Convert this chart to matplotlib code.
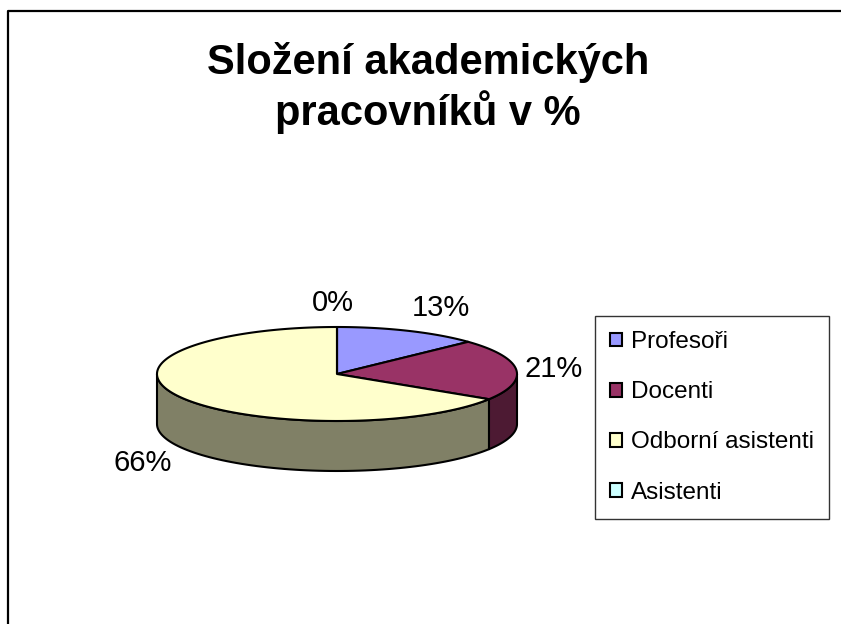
import numpy as np
import matplotlib.pyplot as plt
from matplotlib.patches import Polygon, Patch
from matplotlib.colors import to_rgb

plt.rcParams['font.family'] = ['Liberation Sans', 'DejaVu Sans']

# Data
categories = ["Profesoři", "Docenti", "Odborní asistenti", "Asistenti"]
values = [13, 21, 66, 0]
colors = ["#9999FF", "#993366", "#FFFFCC", "#CCFFFF"]
title = "Složení akademických\npracovníků v %"

# Pie geometry (pixel frame)
cx, cy = 337, 374
rx, ry = 180, 47
depth = 50

fig = plt.figure(figsize=(8.41, 6.24), dpi=100)
ax = fig.add_axes([0, 0, 1, 1])
ax.set_xlim(0, 841)
ax.set_ylim(624, 0)
ax.axis("off")

# chart border (left and top edges visible)
ax.plot([8, 8, 841], [624, 11, 11], color="black", lw=1.6, solid_capstyle="butt")


def pt(t, dy=0.0):
    # t in degrees clockwise from 12 o'clock
    r = np.radians(t)
    return cx + rx * np.sin(r), cy - ry * np.cos(r) + dy


def dark(c):
    return tuple(v * 0.5 for v in to_rgb(c))


total = sum(values)
bounds = np.concatenate([[0], np.cumsum(values) / total * 360])

# side walls (front half only: 90..270)
for i, c in enumerate(colors):
    a, b = max(bounds[i], 90), min(bounds[i + 1], 270)
    if b <= a:
        continue
    ts = np.linspace(a, b, 80)
    top = [pt(t) for t in ts]
    bot = [pt(t, depth) for t in ts[::-1]]
    ax.add_patch(Polygon(top + bot, closed=True, facecolor=dark(c),
                         edgecolor="black", lw=1.5, joinstyle="round"))

# top faces
for i, c in enumerate(colors):
    a, b = bounds[i], bounds[i + 1]
    ts = np.linspace(a, b, max(int(b - a) * 2, 2))
    poly = [(cx, cy)] + [pt(t) for t in ts]
    ax.add_patch(Polygon(poly, closed=True, facecolor=c,
                         edgecolor="black", lw=1.5, joinstyle="round"))

# percentage labels
for i, v in enumerate(values):
    mid = (bounds[i] + bounds[i + 1]) / 2
    r = np.radians(mid)
    s, co = np.sin(r), np.cos(r)
    x = cx + (rx + 8) * s
    y = cy - (ry + 10) * co
    if abs(s) < 0.1:
        ha = "center"
        x -= 4
    else:
        ha = "left" if s > 0 else "right"
    if co > 0.3:
        va = "bottom"
    elif co < -0.3:
        va = "top"
        y += depth - 2
    else:
        va = "center"
    ax.text(x, y, f"{round(v / total * 100)}%", fontsize=21, ha=ha, va=va)

ax.text(428, 88, title, fontsize=30, fontweight="bold", ha="center",
        va="center", linespacing=1.2)

handles = [Patch(facecolor=c, edgecolor="black", lw=1.5) for c in colors]
leg = ax.legend(handles, categories, loc="upper left",
                bbox_to_anchor=(595, 316), bbox_transform=ax.transData,
                fontsize=17.5, frameon=True, fancybox=False, borderaxespad=0,
                handlelength=0.5, handleheight=0.5, handletextpad=0.35,
                labelspacing=1.16, borderpad=0.62)
leg.get_frame().set_edgecolor("black")
leg.get_frame().set_linewidth(1.0)

fig.savefig("out.png", dpi=100)
